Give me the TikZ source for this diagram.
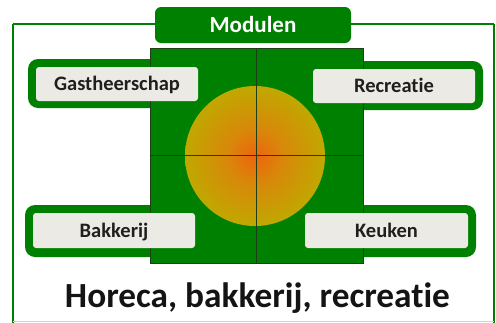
\documentclass[tikz,border=0pt]{standalone}
\usepackage{fontspec}
\setmainfont{Carlito}[RawFeature=-liga]
\definecolor{modgreen}{RGB}{0,128,0}
\definecolor{boxgray}{RGB}{236,234,228}
\definecolor{hubcore}{RGB}{238,100,14}
\definecolor{hubmid}{RGB}{216,136,10}
\definecolor{hubrim}{RGB}{192,168,0}
\definecolor{crossline}{RGB}{30,62,24}
\pgfdeclareradialshading{hubglow}{\pgfpoint{0bp}{0bp}}{color(0bp)=(hubcore); color(10bp)=(hubmid); color(25bp)=(hubrim); color(50bp)=(hubrim)}
\tikzset{
  band/.style={fill=modgreen, rounded corners=10pt},
  modbox/.style={fill=boxgray, rounded corners=3pt, minimum width=162pt, minimum height=34pt, inner sep=0pt, text height=13.2pt, text depth=0pt, font=\fontsize{20.5}{24}\selectfont\bfseries, text=black!88},
}
\begin{document}
\begin{tikzpicture}[x=1pt,y=-1pt]
\useasboundingbox (0,0) rectangle (496,322);
% frame
\draw[modgreen, line width=2pt] (13,24) -- (13,324) (494,24) -- (494,324) (13,24) -- (494,24);
\draw[modgreen!25, line width=1pt] (13,321.8) -- (494,321.8);
% green bands behind the labels
\fill[band] (28,59) rectangle (206,108);
\fill[band] (305,61) rectangle (483,110);
\fill[band] (25,205) rectangle (203,257);
\fill[band] (297,205) rectangle (476,257);
% square with circle
\node[fill=modgreen, draw=crossline, line width=0.6pt, minimum width=213pt, minimum height=215pt, inner sep=0pt] (hub) at (256.5,155.5) {};
\shade[shading=hubglow] (255,156) circle (70);
\draw[crossline, line width=0.7pt] (hub.north) -- (hub.south);
\draw[crossline, line width=0.7pt] (hub.west) -- (hub.east);
% labels
\node[modbox] (gast) at (117,84) {Gastheerschap};
\node[modbox] (recr) at (394,86) {Recreatie};
\node[modbox, minimum height=35pt] (bakk) at (114,230.5) {Bakkerij};
\node[modbox, minimum height=35pt, minimum width=163pt] (keuk) at (386.5,230.5) {Keuken};
% tab
\node[fill=modgreen, rounded corners=6pt, minimum width=196pt, minimum height=36pt, inner sep=0pt, text=white, text height=15pt, text depth=0pt, font=\fontsize{23}{26}\selectfont\bfseries] (modulen) at (253,25) {Modulen};
% title
\node[anchor=base, inner sep=0pt, text=black!92, font=\fontsize{35.3}{40}\selectfont\bfseries] (title) at (257.5,307.5) {Horeca, bakkerij, recreatie};
\end{tikzpicture}
\end{document}
